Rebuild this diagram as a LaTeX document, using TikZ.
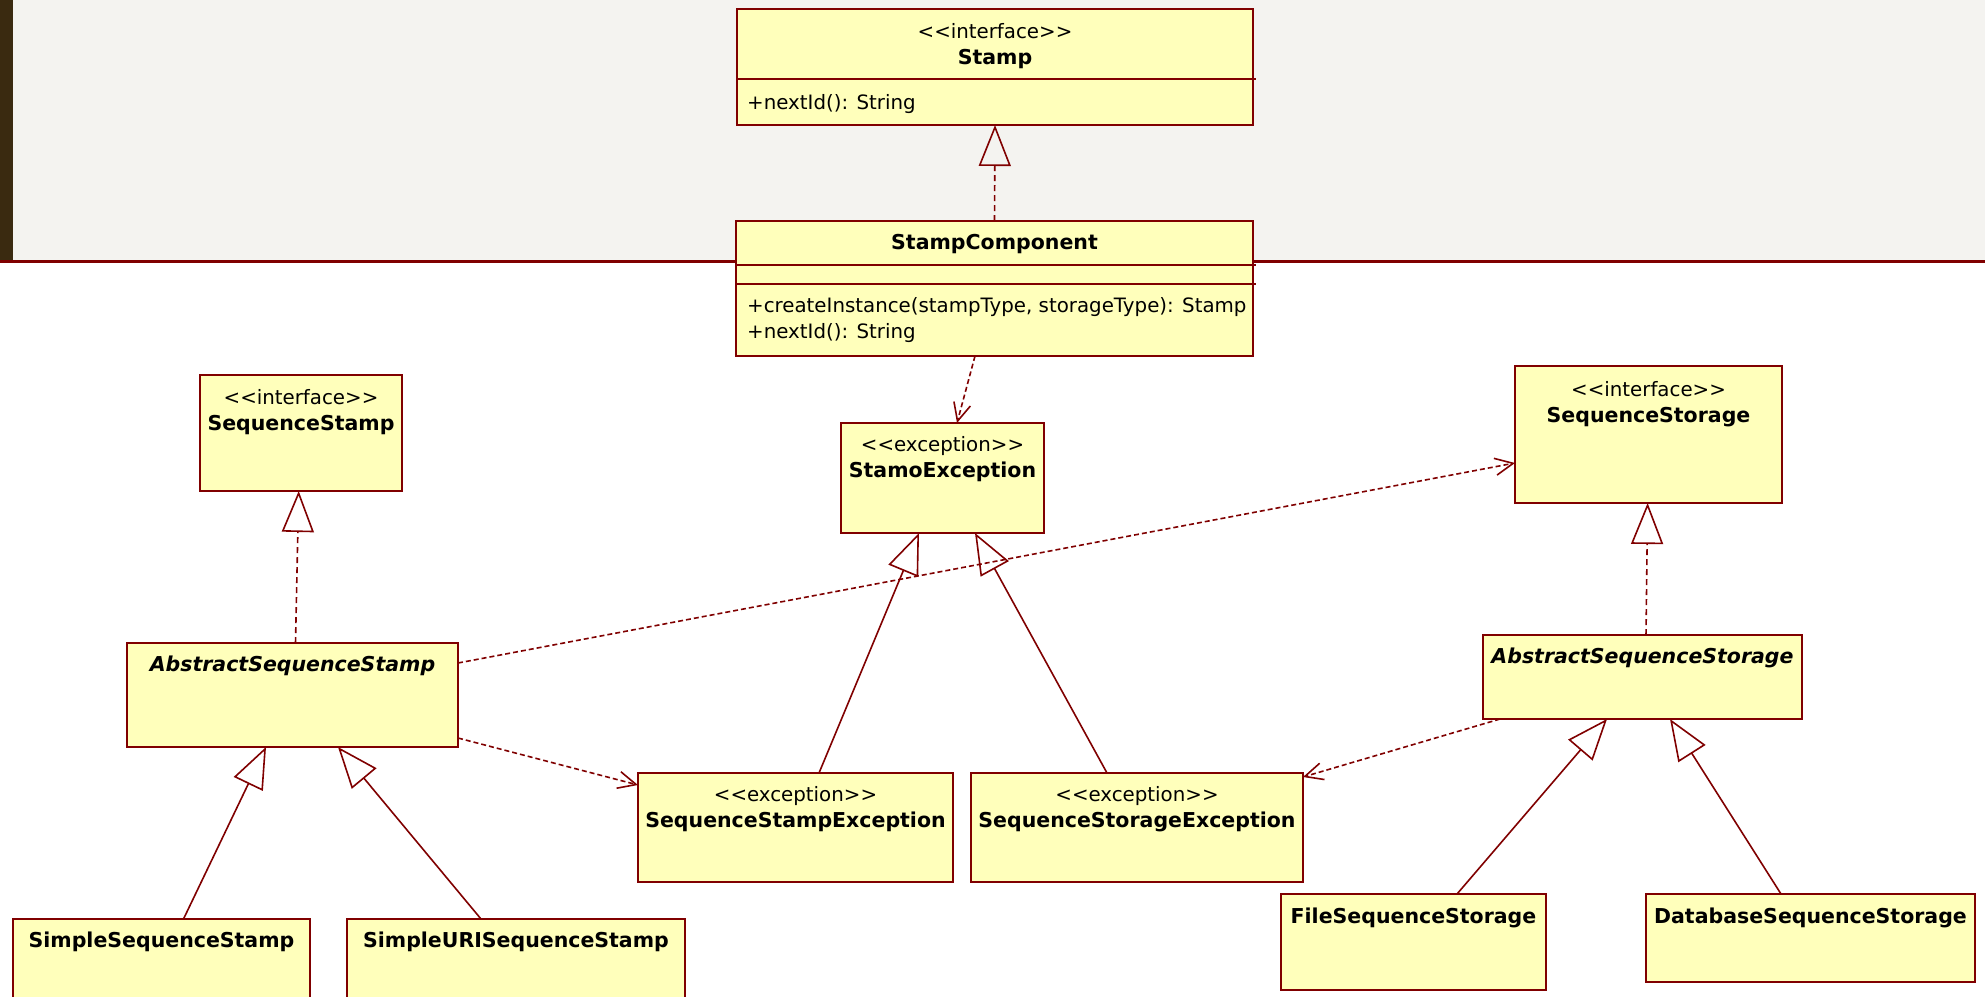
\documentclass[tikz,border=0pt]{standalone}
\usepackage{fontspec}
\setmainfont{DejaVu Sans}
\usetikzlibrary{arrows.meta,calc}
\definecolor{umlline}{RGB}{128,0,0}
\definecolor{umlfill}{RGB}{255,255,187}
\definecolor{topbg}{RGB}{244,243,240}
\definecolor{stripbrown}{RGB}{58,42,16}
\newcommand{\umlst}[1]{<\kern0pt<#1>\kern0pt>}
\begin{document}
\begin{tikzpicture}[x=1pt,y=-1pt,
  cls/.style={draw=umlline, fill=umlfill, line width=2pt, rectangle, anchor=north west, inner sep=0pt, outer sep=0pt},
  stereo/.style={anchor=base, inner sep=0pt, font=\fontsize{19.8}{24}\selectfont},
  ctitle/.style={anchor=base, inner sep=0pt, font=\fontsize{20.5}{24}\selectfont\bfseries},
  atitle/.style={anchor=base, inner sep=0pt, font=\fontsize{20.5}{24}\selectfont\bfseries\itshape},
  member/.style={anchor=base west, inner sep=0pt, font=\fontsize{19.8}{24}\selectfont},
  sepline/.style={draw=umlline, line width=2pt},
  conn/.style={draw=umlline, line width=1.6pt},
  real/.style={conn, dash pattern=on 6pt off 4pt, -{Triangle[open, length=41pt, width=32pt]}},
  gen/.style={conn, -{Triangle[open, length=41pt, width=32pt]}},
  dep/.style={conn, dash pattern=on 5pt off 3pt, -{Straight Barb[length=18pt, width=17pt]}},
]
\useasboundingbox (0,0) rectangle (1985,996);
% background
\fill[white] (0,0) rectangle (1985,996);
\fill[topbg] (0,0) rectangle (1985,261);
\fill[stripbrown] (0,0) rectangle (13,261);
\draw[umlline, line width=2.5pt] (0,261.5) -- (1985,261.5);

% class boxes
\node[cls, minimum width=516pt, minimum height=116pt] (stamp) at (737,9) {};
\node[cls, minimum width=517pt, minimum height=135pt] (comp) at (736,221) {};
\node[cls, minimum width=202pt, minimum height=116pt] (seqstamp) at (200,375) {};
\node[cls, minimum width=203pt, minimum height=110pt] (stamoex) at (841,423) {};
\node[cls, minimum width=267pt, minimum height=137pt] (seqstorage) at (1515,366) {};
\node[cls, minimum width=331pt, minimum height=104pt] (absstamp) at (127,643) {};
\node[cls, minimum width=319pt, minimum height=84pt] (absstorage) at (1483,635) {};
\node[cls, minimum width=315pt, minimum height=109pt] (stampex) at (638,773) {};
\node[cls, minimum width=332pt, minimum height=109pt] (storageex) at (971,773) {};
\node[cls, minimum width=297pt, minimum height=95pt] (simple) at (13,919) {};
\node[cls, minimum width=338pt, minimum height=95pt] (simpleuri) at (347,919) {};
\node[cls, minimum width=265pt, minimum height=96pt] (filestorage) at (1281,894) {};
\node[cls, minimum width=329pt, minimum height=88pt] (dbstorage) at (1646,894) {};

% compartments
\draw[sepline] ($(stamp.north west)+(0,70)$) -- ($(stamp.north east)+(3,70)$);
\draw[sepline] ($(comp.north west)+(0,44)$) -- ($(comp.north east)+(3,44)$);
\draw[sepline] ($(comp.north west)+(0,63)$) -- ($(comp.north east)+(3,63)$);

% texts
\node[stereo] (stamp-st) at ($(stamp.north)+(0,29)$) {\umlst{interface}};
\node[ctitle] (stamp-t) at ($(stamp.north)+(0,55)$) {Stamp};
\node[member] (stamp-m1) at ($(stamp.north west)+(10,100)$) {+nextId(): String};

\node[ctitle] (comp-t) at ($(comp.north)+(0,28)$) {StampComponent};
\node[member] (comp-m1) at ($(comp.north west)+(11,91)$) {+createInstance(stampType, storageType): Stamp};
\node[member] (comp-m2) at ($(comp.north west)+(11,117)$) {+nextId(): String};

\node[stereo] (seqstamp-st) at ($(seqstamp.north)+(0,29)$) {\umlst{interface}};
\node[ctitle] (seqstamp-t) at ($(seqstamp.north)+(0,55)$) {SequenceStamp};

\node[stereo] (stamoex-st) at ($(stamoex.north)+(0,28)$) {\umlst{exception}};
\node[ctitle] (stamoex-t) at ($(stamoex.north)+(0,54)$) {StamoException};

\node[stereo] (seqstorage-st) at ($(seqstorage.north)+(0,30)$) {\umlst{interface}};
\node[ctitle] (seqstorage-t) at ($(seqstorage.north)+(0,56)$) {SequenceStorage};

\node[atitle] (absstamp-t) at ($(absstamp.north)+(0,28)$) {AbstractSequenceStamp};
\node[atitle] (absstorage-t) at ($(absstorage.north)+(0,28)$) {AbstractSequenceStorage};

\node[stereo] (stampex-st) at ($(stampex.north)+(0,28)$) {\umlst{exception}};
\node[ctitle] (stampex-t) at ($(stampex.north)+(0,54)$) {SequenceStampException};
\node[stereo] (storageex-st) at ($(storageex.north)+(0,28)$) {\umlst{exception}};
\node[ctitle] (storageex-t) at ($(storageex.north)+(0,54)$) {SequenceStorageException};

\node[ctitle] (simple-t) at ($(simple.north)+(0,28)$) {SimpleSequenceStamp};
\node[ctitle] (simpleuri-t) at ($(simpleuri.north)+(0,28)$) {SimpleURISequenceStamp};
\node[ctitle] (filestorage-t) at ($(filestorage.north)+(0,29)$) {FileSequenceStorage};
\node[ctitle] (dbstorage-t) at ($(dbstorage.north)+(0,29)$) {DatabaseSequenceStorage};

% connectors
\draw[real] (comp.north) -- (stamp.south);
\draw[dep] ($(comp.south west)+(239,0)$) -- ($(stamoex.north west)+(116,0)$);
\draw[real] ($(absstamp.north west)+(168.5,0)$) -- ($(seqstamp.south west)+(98.7,0)$);
\draw[dep] ($(absstamp.north east)+(0,20)$) -- ($(seqstorage.north west)+(0,97)$);
\draw[dep] ($(absstamp.south east)+(0,-9)$) -- ($(stampex.north west)+(0,12)$);
\draw[gen] ($(stampex.north west)+(181,0)$) -- ($(stamoex.south west)+(78,0)$);
\draw[gen] ($(storageex.north west)+(136,0)$) -- ($(stamoex.south west)+(134,0)$);
\draw[real] ($(absstorage.north west)+(163,0)$) -- ($(seqstorage.south west)+(132.6,0)$);
\draw[dep] ($(absstorage.south west)+(17,0)$) -- ($(storageex.north east)+(0,4)$);
\draw[gen] ($(filestorage.north west)+(176,0)$) -- ($(absstorage.south west)+(124,0)$);
\draw[gen] ($(dbstorage.north west)+(135,0)$) -- ($(absstorage.south west)+(187,0)$);
\draw[gen] ($(simple.north west)+(170.5,0)$) -- ($(absstamp.south west)+(139,0)$);
\draw[gen] ($(simpleuri.north west)+(134,0)$) -- ($(absstamp.south west)+(211,0)$);
\end{tikzpicture}
\end{document}
